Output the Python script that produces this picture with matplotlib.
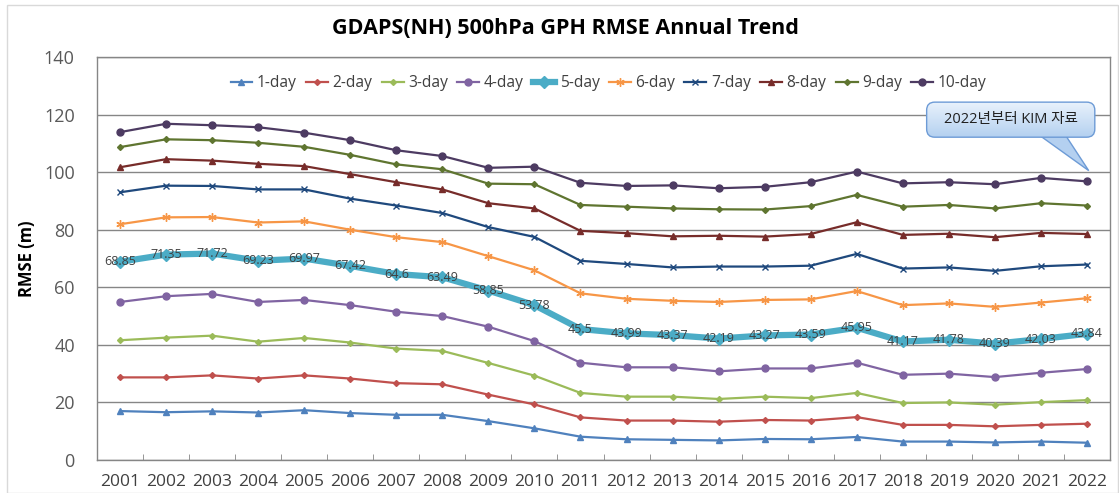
import matplotlib
matplotlib.use("Agg")
import matplotlib.pyplot as plt
from matplotlib.patches import FancyBboxPatch, Polygon, Rectangle
from matplotlib.colors import LinearSegmentedColormap
import numpy as np

plt.rcParams['font.family'] = ['Open Sans', 'Noto Sans CJK KR', 'DejaVu Sans']

years = [str(y) for y in range(2001, 2023)]

day1 = [17.0, 16.6, 16.9, 16.5, 17.3, 16.3, 15.7, 15.7, 13.5, 11.0, 8.1,
        7.2, 7.0, 6.8, 7.3, 7.2, 8.0, 6.4, 6.4, 6.1, 6.4, 6.0]
day2 = [28.7, 28.7, 29.4, 28.3, 29.4, 28.3, 26.7, 26.3, 22.7, 19.3, 14.8,
        13.7, 13.7, 13.3, 13.9, 13.7, 14.9, 12.2, 12.2, 11.7, 12.2, 12.6]
day3 = [41.6, 42.5, 43.2, 41.1, 42.4, 40.8, 38.7, 37.9, 33.7, 29.3, 23.3,
        22.0, 22.0, 21.2, 22.0, 21.5, 23.3, 19.8, 20.0, 19.2, 20.1, 20.8]
day4 = [54.9, 56.9, 57.7, 54.9, 55.6, 53.8, 51.5, 50.0, 46.3, 41.3, 33.8,
        32.2, 32.2, 30.8, 31.8, 31.8, 33.8, 29.6, 30.0, 28.8, 30.3, 31.6]
day5 = [68.85, 71.35, 71.72, 69.23, 69.97, 67.42, 64.6, 63.49, 58.85, 53.78, 45.5,
        43.99, 43.37, 42.19, 43.27, 43.59, 45.95, 41.17, 41.78, 40.39, 42.03, 43.84]
day6 = [81.9, 84.3, 84.4, 82.5, 82.9, 80.0, 77.4, 75.7, 70.8, 65.9, 57.9,
        56.0, 55.3, 54.9, 55.6, 55.8, 58.7, 53.8, 54.4, 53.2, 54.7, 56.2]
day7 = [93.0, 95.3, 95.2, 94.0, 94.0, 90.8, 88.4, 85.8, 80.9, 77.5, 69.2,
        68.1, 66.9, 67.2, 67.2, 67.5, 71.6, 66.5, 66.9, 65.7, 67.3, 67.9]
day8 = [101.7, 104.5, 104.0, 102.9, 102.1, 99.3, 96.5, 94.0, 89.2, 87.4, 79.6,
        78.8, 77.7, 77.9, 77.6, 78.5, 82.6, 78.2, 78.6, 77.4, 78.9, 78.5]
day9 = [108.7, 111.4, 111.1, 110.2, 108.8, 106.0, 102.7, 101.0, 96.0, 95.8, 88.6,
        88.0, 87.4, 87.1, 87.0, 88.2, 92.1, 88.0, 88.6, 87.4, 89.2, 88.4]
day10 = [113.9, 116.8, 116.3, 115.6, 113.7, 111.1, 107.6, 105.6, 101.5, 101.9, 96.3,
         95.2, 95.4, 94.4, 94.9, 96.5, 100.2, 96.1, 96.5, 95.8, 98.0, 96.8]

series = [
    ('1-day', day1, '#4F81BD', '^', 5, 1.6),
    ('2-day', day2, '#C0504D', 'D', 3, 1.6),
    ('3-day', day3, '#9BBB59', 'D', 3, 1.6),
    ('4-day', day4, '#8064A2', 'o', 5, 1.6),
    ('5-day', day5, '#4BACC6', 'D', 6, 4.5),
    ('6-day', day6, '#F79646', (6, 2, 0), 6, 1.6),
    ('7-day', day7, '#1F497D', 'x', 5, 1.6),
    ('8-day', day8, '#772C2A', '^', 5, 1.6),
    ('9-day', day9, '#5F7530', 'D', 3, 1.6),
    ('10-day', day10, '#4D3B62', 'o', 5, 1.6),
]

fig = plt.figure(figsize=(11.19, 4.93), dpi=100)
ax = fig.add_axes([97 / 1119, 1 - 460 / 493, 1013 / 1119, 403 / 493])

x = np.arange(len(years))
for name, vals, color, marker, ms, lw in series:
    ax.plot(x, vals, color=color, lw=lw, marker=marker, markersize=ms,
            markeredgecolor=color, markerfacecolor=color, label=name, zorder=3)

for xi, v in zip(x, day5):
    ax.text(xi, v, '{:g}'.format(v), ha='center', va='center', fontsize=9,
            color='#404040', zorder=4)

ax.set_xlim(-0.5, len(years) - 0.5)
ax.set_ylim(0, 140)
ax.set_yticks(range(0, 141, 20))
ax.set_xticks(x)
ax.set_xticklabels(years)
ax.set_xticks(np.arange(0.5, len(years) - 1, 1), minor=True)
ax.tick_params(axis='x', which='major', length=0, pad=10, labelsize=12.5, labelcolor='#404040')
ax.tick_params(axis='x', which='minor', length=4, direction='in', color='#868686')
ax.tick_params(axis='y', length=0, pad=16, labelsize=13, labelcolor='#595959')
ax.grid(axis='y', color='#868686', lw=1)
ax.set_axisbelow(True)
for s in ax.spines.values():
    s.set_color('#868686')
    s.set_linewidth(1)

ax.set_ylabel('RMSE (m)', fontsize=12, fontweight='bold', labelpad=6)

leg = ax.legend(loc='center', bbox_to_anchor=(0.505, 0.935), ncol=10, frameon=False,
                fontsize=11.2, handlelength=1.4, handletextpad=0.3, columnspacing=0.6,
                labelcolor='#404040')

fig.text(0.505, 1 - 28 / 493, 'GDAPS(NH) 500hPa GPH RMSE Annual Trend',
         ha='center', va='center', fontsize=15.5, fontweight='bold')

# callout
tail = Polygon([(0.928, 0.81), (0.955, 0.81), (0.979, 0.718)], closed=True,
               transform=ax.transAxes, facecolor='#b4d0f0', edgecolor='#6d9bd6',
               lw=1, zorder=5, clip_on=False)
ax.add_patch(tail)
box = FancyBboxPatch((0.819, 0.801), 0.166, 0.087,
                     boxstyle='round,pad=0,rounding_size=0.008',
                     mutation_aspect=1013 / 403, transform=ax.transAxes,
                     facecolor='none', edgecolor='#6d9bd6', lw=1, zorder=7,
                     clip_on=False)
ax.add_patch(box)
grad = np.linspace(0, 1, 64).reshape(-1, 1)
cm = LinearSegmentedColormap.from_list('cb', ['#b4d0f0', '#eaf3fc'])
im = ax.imshow(grad, cmap=cm, origin='lower', aspect='auto',
               extent=(0.819, 0.985, 0.801, 0.888), transform=ax.transAxes,
               zorder=6, clip_on=True)
im.set_clip_path(box)
ax.text(0.902, 0.8445, '2022년부터 KIM 자료', transform=ax.transAxes, ha='center',
        va='center', fontsize=10.5, color='#202020', zorder=8)
ax.set_xlim(-0.5, len(years) - 0.5)
ax.set_ylim(0, 140)

fig.patches.append(Rectangle((7 / 1119, 0), 1 - 8 / 1119, 1 - 5 / 493,
                             transform=fig.transFigure, fill=False,
                             edgecolor='#d9d9d9', lw=1))

fig.savefig('out.png', dpi=100)
